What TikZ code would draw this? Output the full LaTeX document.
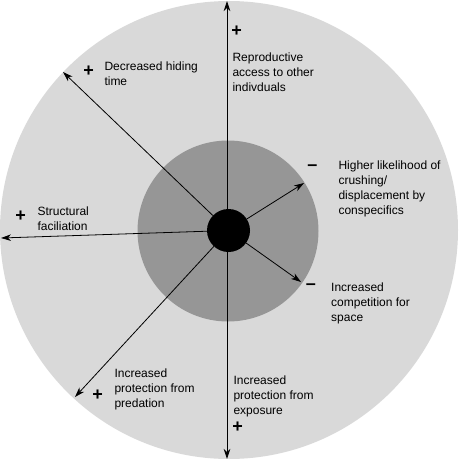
\documentclass[tikz,border=0pt]{standalone}
\usepackage{fontspec}
\setmainfont{Liberation Sans}
\usetikzlibrary{arrows.meta}
\definecolor{outerg}{RGB}{217,217,217}
\definecolor{innerg}{RGB}{150,150,150}
\begin{document}
\begin{tikzpicture}[x=1pt,y=-1pt,
  lbl/.style={anchor=north west,inner sep=0pt,align=left,font=\fontsize{12}{15}\selectfont},
  sgn/.style={inner sep=0pt,font=\fontsize{18}{18}\selectfont\bfseries},
  arr/.style={line width=0.8pt,-{Stealth[length=10pt,width=6.5pt,inset=3pt]}},
  darr/.style={line width=0.8pt,{Stealth[length=10pt,width=6.5pt,inset=3pt]}-{Stealth[length=10pt,width=6.5pt,inset=3pt]}}]
\useasboundingbox (0,0) rectangle (459,460);
\fill[outerg] (229,230) circle (229);
\fill[innerg] (228,231) circle (90.5);
\coordinate (top) at (227,1);
\coordinate (bot) at (227,459);
\draw[darr] (top) -- (bot);
\node[circle,fill=black,minimum size=43pt,inner sep=0pt] (c) at (228.5,230.5) {};
\coordinate (ul) at (63,72);
\coordinate (l) at (1,238);
\coordinate (ll) at (75,397);
\coordinate (ur) at (304,183);
\coordinate (lr) at (301,282);
\draw[arr] (c) -- (ul);
\draw[arr] (c) -- (l);
\draw[arr] (c) -- (ll);
\draw[arr] (c) -- (ur);
\draw[arr] (c) -- (lr);
% labels
\node[lbl] (t1) at (232.3,52.3) {Reproductive\\access to other\\indivduals};
\node[sgn] (s1) at (236.7,31) {+};
\node[lbl] (t2) at (104.3,61.7) {Decreased hiding\\time};
\node[sgn] (s2) at (88.7,71) {+};
\node[lbl] (t3) at (338.3,161) {Higher likelihood of\\crushing/\\displacement by\\conspecifics};
\node[sgn] (s3) at (312.3,167.3) {–};
\node[lbl] (t4) at (331,282.3) {Increased\\competition for\\space};
\node[sgn] (s4) at (311,286.7) {–};
\node[lbl] (t5) at (37.3,206.7) {Structural\\faciliation};
\node[sgn] (s5) at (20.7,216) {+};
\node[lbl] (t6) at (114.3,369) {Increased\\protection from\\predation};
\node[sgn] (s6) at (97.7,395) {+};
\node[lbl] (t7) at (233.3,376) {Increased\\protection from\\exposure};
\node[sgn] (s7) at (237.7,427.7) {+};
\end{tikzpicture}
\end{document}
